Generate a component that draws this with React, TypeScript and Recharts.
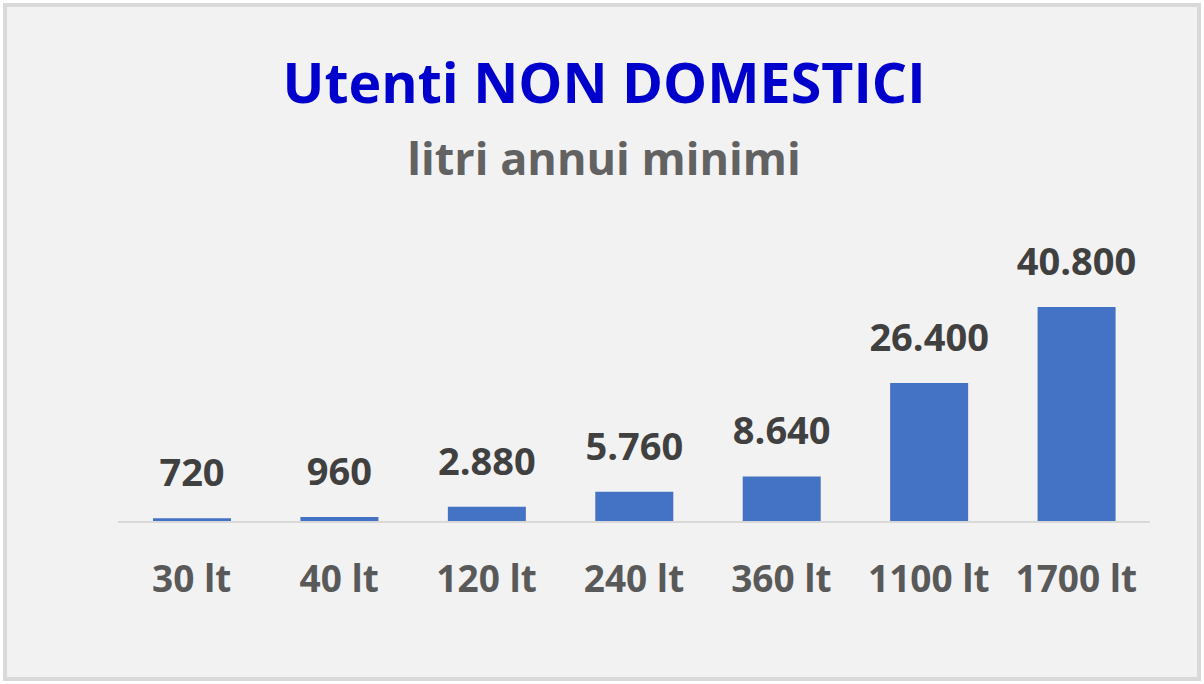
import { BarChart, Bar, XAxis, YAxis, LabelList } from 'recharts';

const categories = ['30 lt', '40 lt', '120 lt', '240 lt', '360 lt', '1100 lt', '1700 lt'];
const litriAnnui = [720, 960, 2880, 5760, 8640, 26400, 40800];

const data = categories.map((name, i) => ({ name, value: litriAnnui[i] }));

// Italian thousands separator: 40800 -> 40.800
const fmt = (v: number) => String(v).replace(/\B(?=(\d{3})+(?!\d))/g, '.');

const FONT = '"Open Sans", sans-serif';

function CategoryTick(props: any) {
  const { x, y, payload } = props;
  return (
    <text x={x} y={y + 70} textAnchor="middle" fill="#595959" fontFamily={FONT} fontWeight={700} fontSize={37}>
      {payload.value}
    </text>
  );
}

export default function App() {
  return (
    <div style={{ position: 'absolute', left: 0, top: 0, width: 1204, height: 684, background: '#fff' }}>
      <div
        style={{
          position: 'absolute', left: 3, top: 3, width: 1198, height: 678,
          border: '4px solid #d9d9d9', boxSizing: 'border-box', background: '#f2f2f2',
        }}
      />
      <svg width={1204} height={684} style={{ position: 'absolute', left: 0, top: 0 }}>
        <text x={604} y={103} textAnchor="middle" fill="#0000cc" fontFamily={FONT} fontWeight={700} fontSize={55.5}>
          Utenti NON DOMESTICI
        </text>
        <text x={604} y={175} textAnchor="middle" fill="#626262" fontFamily={FONT} fontWeight={700} fontSize={45}>
          litri annui minimi
        </text>
      </svg>
      <div style={{ position: 'absolute', left: 0, top: 0 }}>
        <BarChart width={1204} height={684} data={data} margin={{ top: 307, right: 54, bottom: 102, left: 118 }}>
          <YAxis hide domain={[0, 40800]} />
          <XAxis
            dataKey="name"
            height={60}
            axisLine={{ stroke: '#d9d9d9', strokeWidth: 2 }}
            tickLine={false}
            tickSize={0}
            tickMargin={0}
            interval={0}
            tick={<CategoryTick />}
          />
          <Bar dataKey="value" fill="#4472c4" barSize={78} isAnimationActive={false}>
            <LabelList
              dataKey="value"
              position="top"
              offset={32}
              formatter={(v: any) => fmt(Number(v))}
              fill="#404040"
              fontFamily={FONT}
              fontWeight={700}
              fontSize={38}
            />
          </Bar>
        </BarChart>
      </div>
    </div>
  );
}
